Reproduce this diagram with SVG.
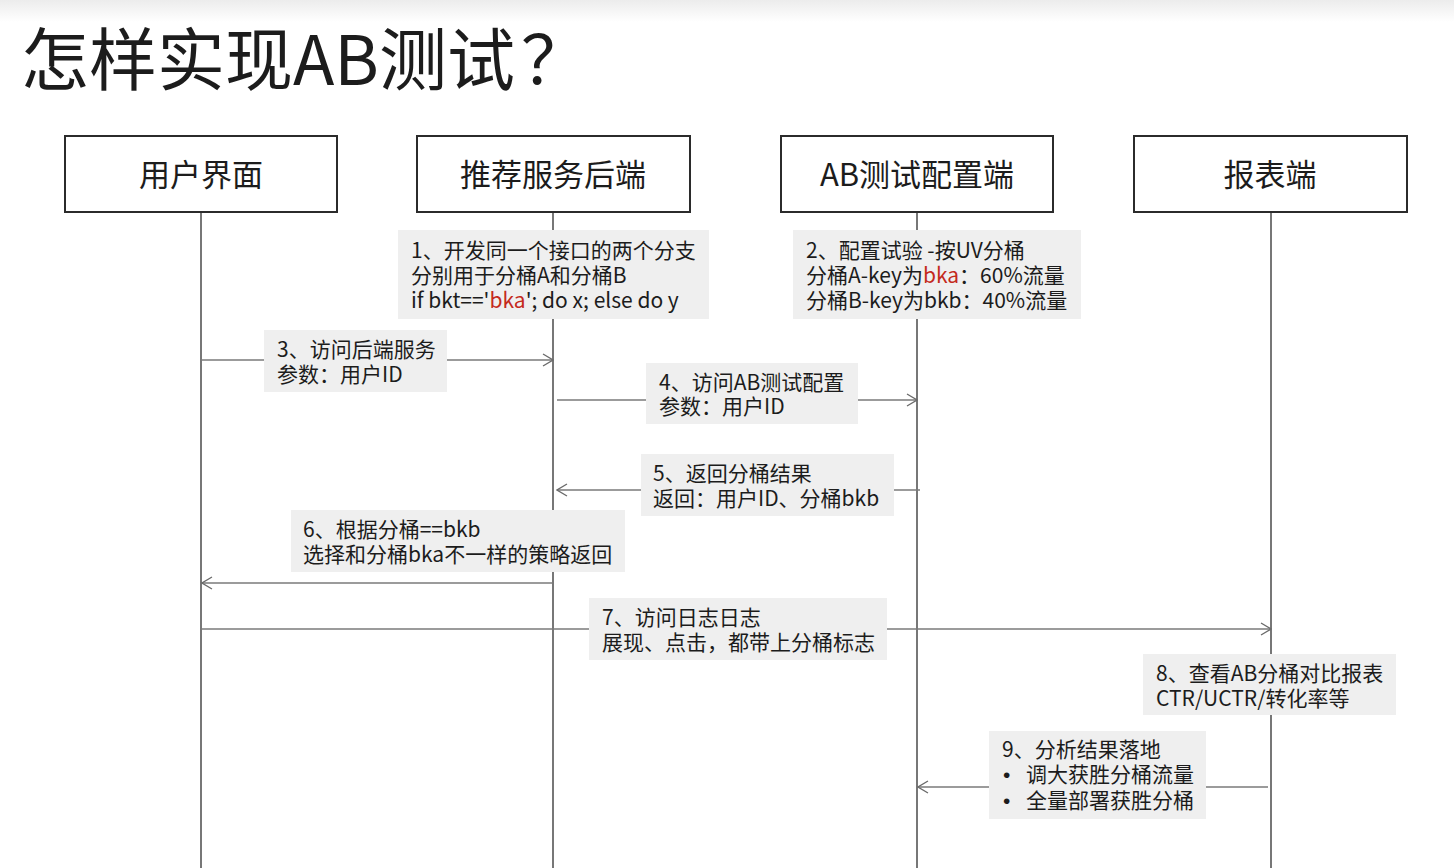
<svg xmlns="http://www.w3.org/2000/svg" width="1454" height="868" viewBox="0 0 1454 868">
  <style>
    text { font-family: "Noto Sans CJK SC", "Microsoft YaHei", sans-serif; fill: #1c1c1c; }
    .title { font-size: 68px; }
    .actor rect { fill: #ffffff; stroke: #2b2b2b; stroke-width: 2; }
    .actor text { font-size: 31px; text-anchor: middle; }
    .life { stroke: #4a4a4a; stroke-width: 1.5; fill: none; }
    .msg { stroke: #7a7a7a; stroke-width: 1.5; fill: none; marker-end: url(#open); }
    .note rect { fill: #efefef; }
    .note text { font-size: 21px; }
    .note .bullet { font-family: "Liberation Sans", "DejaVu Sans", sans-serif; }
    .red { fill: #c42a1c; }
  </style>
  <defs>
    <marker id="open" viewBox="0 0 12 14" refX="11" refY="7" markerWidth="12" markerHeight="14" markerUnits="userSpaceOnUse" orient="auto">
      <path d="M1,1 L11,7 L1,13" fill="none" stroke="#6a6a6a" stroke-width="1.3"/>
    </marker>
    <linearGradient id="topfade" x1="0" y1="0" x2="0" y2="1">
      <stop offset="0" stop-color="#ececec"/>
      <stop offset="1" stop-color="#ffffff"/>
    </linearGradient>
  </defs>

  <!-- page background -->
  <rect x="0" y="0" width="1454" height="868" fill="#ffffff"/>
  <rect x="0" y="0" width="1454" height="22" fill="url(#topfade)"/>

  <text class="title" x="21" y="85">怎样实现AB测试<tspan dx="6">？</tspan></text>

  <!-- lifelines -->
  <g id="lifelines">
    <line class="life" x1="201" y1="212" x2="201" y2="868"/>
    <line class="life" x1="553" y1="212" x2="553" y2="868"/>
    <line class="life" x1="917" y1="212" x2="917" y2="868"/>
    <line class="life" x1="1271" y1="212" x2="1271" y2="868"/>
  </g>

  <!-- participants -->
  <g id="actor-ui" class="actor">
    <rect x="65" y="136" width="272" height="76"/>
    <text x="201" y="186">用户界面</text>
  </g>
  <g id="actor-backend" class="actor">
    <rect x="417" y="136" width="273" height="76"/>
    <text x="553" y="186">推荐服务后端</text>
  </g>
  <g id="actor-abconfig" class="actor">
    <rect x="781" y="136" width="272" height="76"/>
    <text x="917" y="186">AB测试配置端</text>
  </g>
  <g id="actor-report" class="actor">
    <rect x="1134" y="136" width="273" height="76"/>
    <text x="1270" y="186">报表端</text>
  </g>

  <!-- message lines -->
  <g id="connectors">
    <line class="msg" x1="201" y1="360" x2="553" y2="360"/>
    <line class="msg" x1="557" y1="400" x2="917" y2="400"/>
    <line class="msg" x1="920" y1="490" x2="557" y2="490"/>
    <line class="msg" x1="553" y1="583" x2="202" y2="583"/>
    <line class="msg" x1="201" y1="629" x2="1271" y2="629"/>
    <line class="msg" x1="1268" y1="787" x2="918" y2="787"/>
  </g>

  <!-- notes and message labels -->
  <g id="note-1" class="note">
    <rect x="398" y="230" width="311" height="89"/>
    <text x="411" y="258">1、开发同一个接口的两个分支</text>
    <text x="411" y="283">分别用于分桶A和分桶B</text>
    <text x="411" y="308">if bkt=='<tspan class="red">bka</tspan>'; do x; else do y</text>
  </g>
  <g id="note-2" class="note">
    <rect x="793" y="230" width="288" height="89"/>
    <text x="806" y="258">2、配置试验 -按UV分桶</text>
    <text x="806" y="283">分桶A-key为<tspan class="red">bka</tspan>：60%流量</text>
    <text x="806" y="308">分桶B-key为bkb：40%流量</text>
  </g>
  <g id="label-3" class="note">
    <rect x="264" y="330" width="183" height="62"/>
    <text x="277" y="357">3、访问后端服务</text>
    <text x="277" y="382">参数：用户ID</text>
  </g>
  <g id="label-4" class="note">
    <rect x="646" y="363" width="212" height="61"/>
    <text x="659" y="390">4、访问AB测试配置</text>
    <text x="659" y="414">参数：用户ID</text>
  </g>
  <g id="label-5" class="note">
    <rect x="641" y="454" width="253" height="62"/>
    <text x="653" y="481">5、返回分桶结果</text>
    <text x="653" y="506">返回：用户ID、分桶bkb</text>
  </g>
  <g id="label-6" class="note">
    <rect x="291" y="510" width="334" height="62"/>
    <text x="303" y="537">6、根据分桶==bkb</text>
    <text x="303" y="562">选择和分桶bka不一样的策略返回</text>
  </g>
  <g id="label-7" class="note">
    <rect x="589" y="598" width="298" height="62"/>
    <text x="602" y="625">7、访问日志日志</text>
    <text x="602" y="650">展现、点击，都带上分桶标志</text>
  </g>
  <g id="note-8" class="note">
    <rect x="1143" y="654" width="253" height="61"/>
    <text x="1156" y="681">8、查看AB分桶对比报表</text>
    <text x="1156" y="706">CTR/UCTR/转化率等</text>
  </g>
  <g id="label-9" class="note">
    <rect x="989" y="731" width="217" height="88"/>
    <text x="1002" y="757">9、分析结果落地</text>
    <text x="1003" y="782"><tspan class="bullet">•</tspan><tspan x="1026">调大获胜分桶流量</tspan></text>
    <text x="1003" y="808"><tspan class="bullet">•</tspan><tspan x="1026">全量部署获胜分桶</tspan></text>
  </g>
</svg>
